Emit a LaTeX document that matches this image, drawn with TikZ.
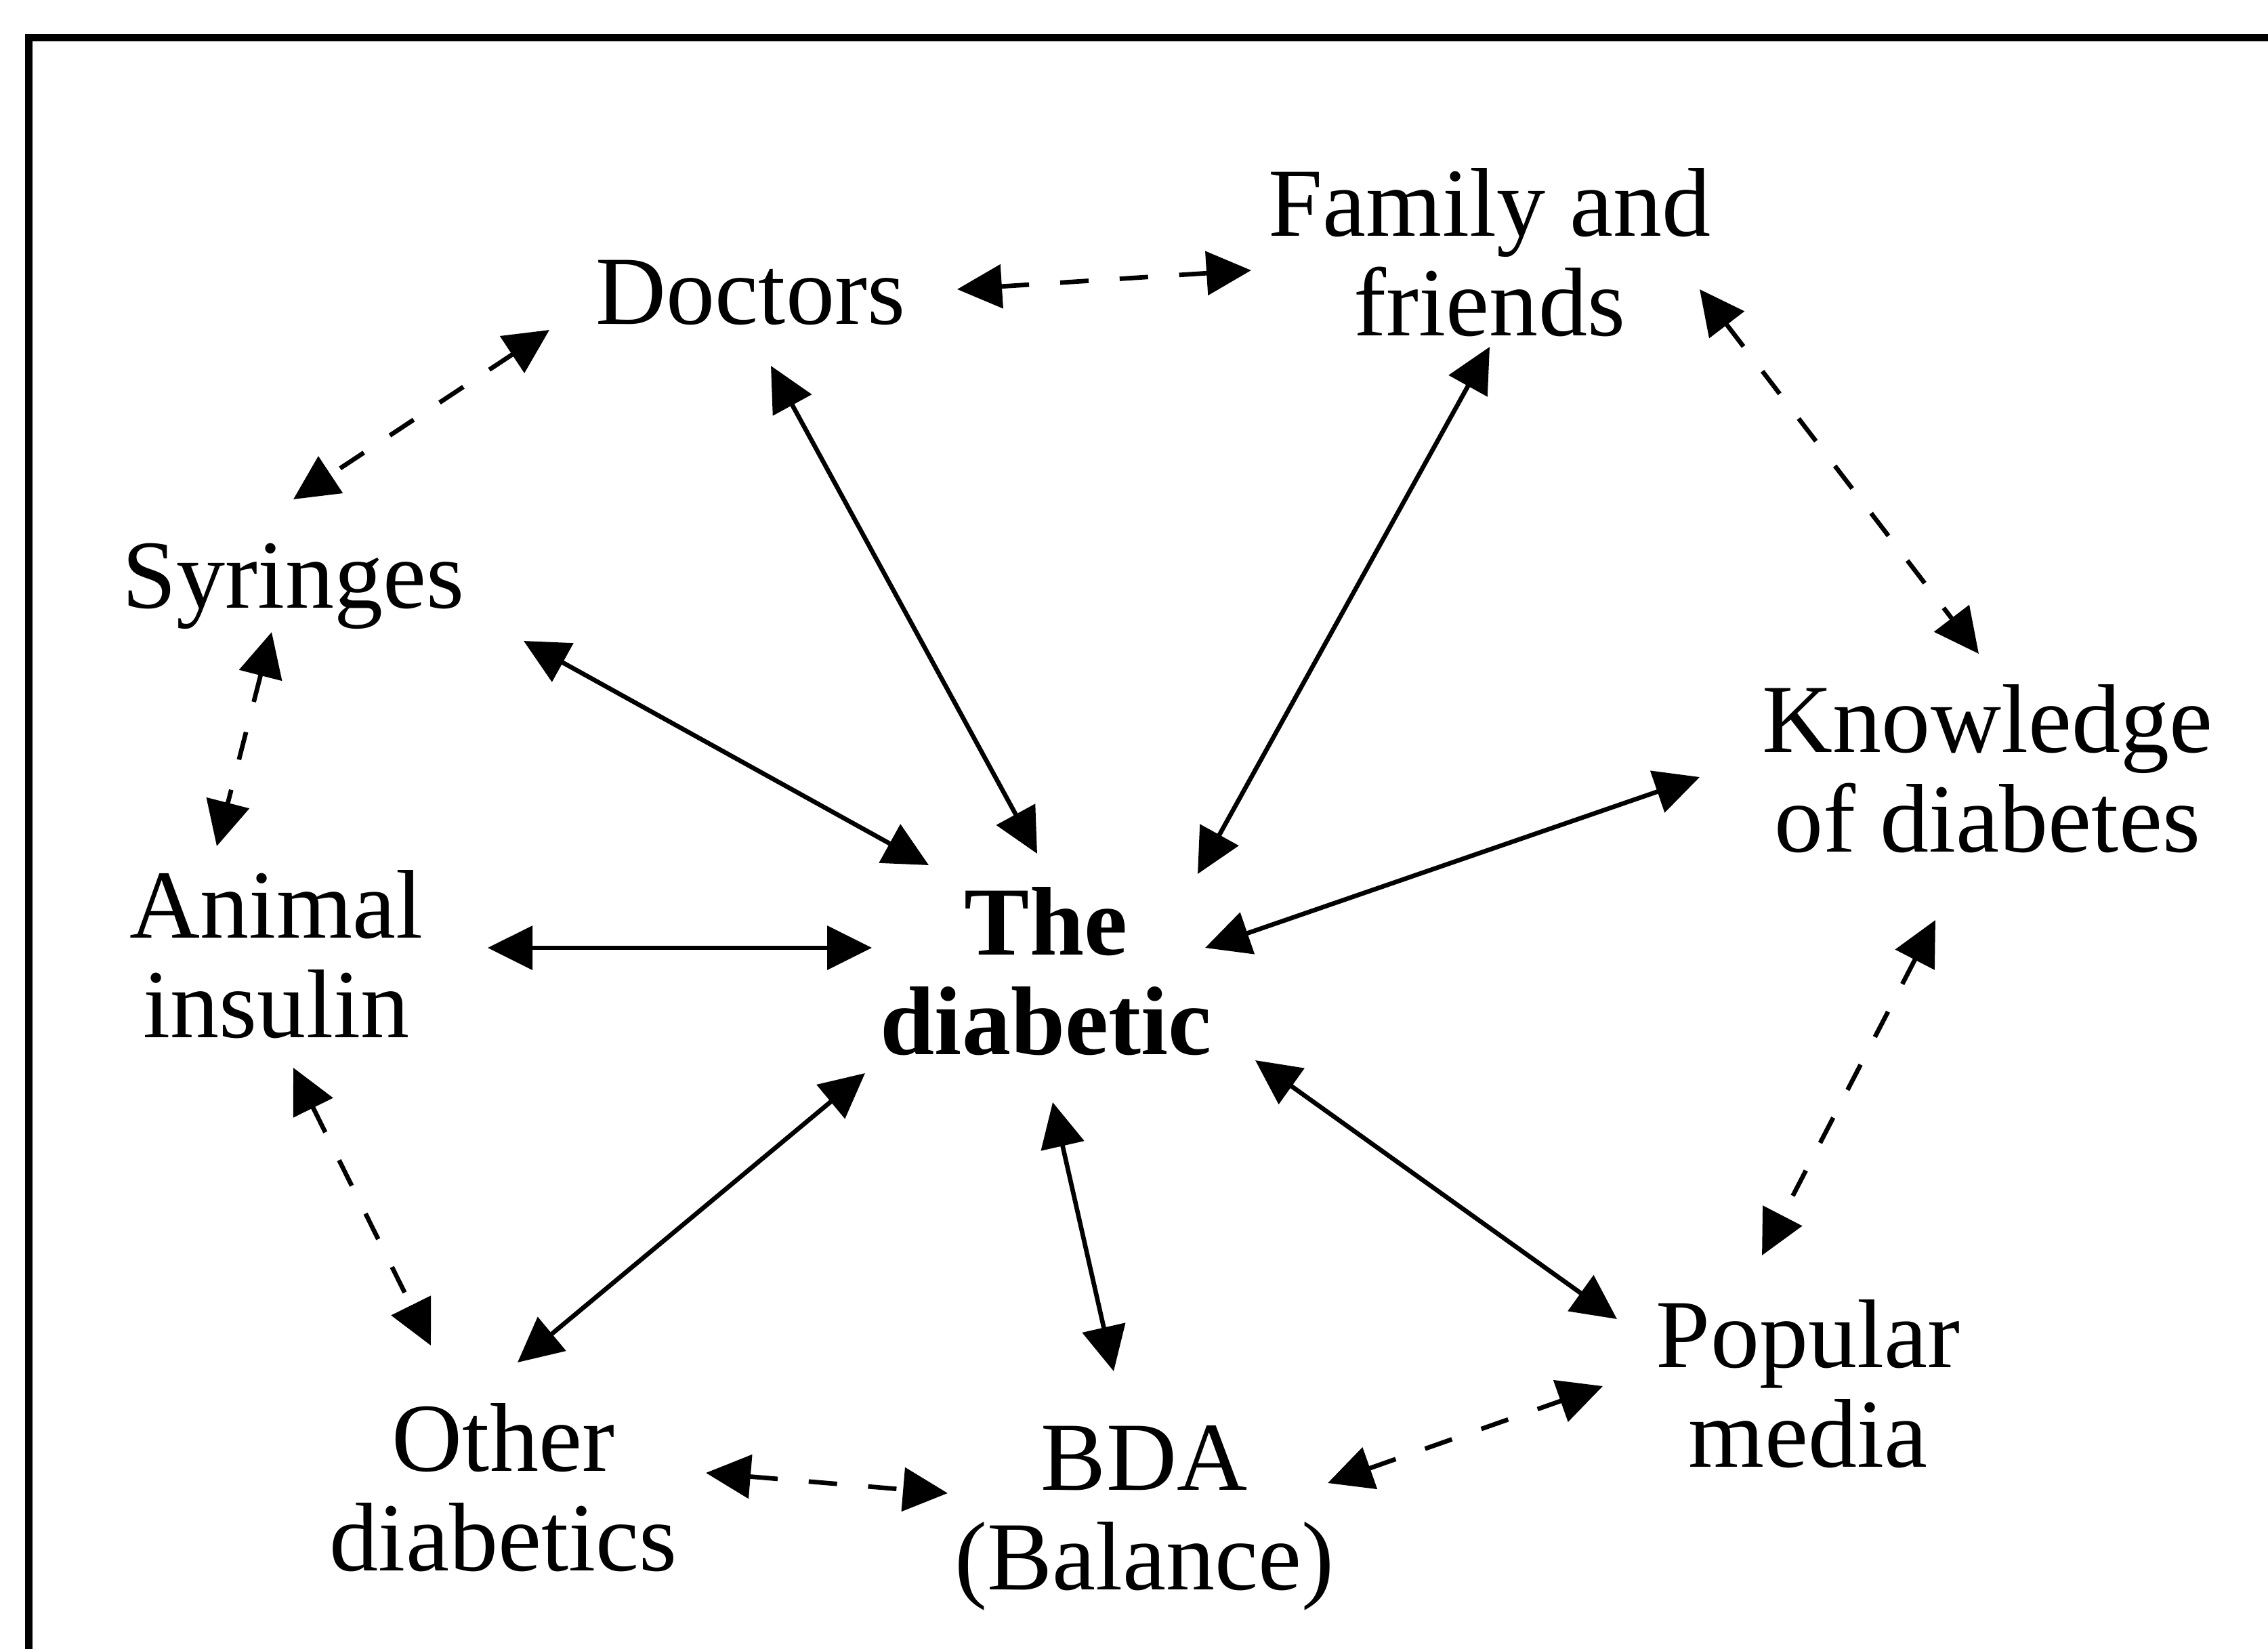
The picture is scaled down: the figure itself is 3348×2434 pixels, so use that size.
\documentclass[tikz,border=0pt]{standalone}
\usepackage{fontspec}
\setmainfont{Liberation Serif}
\usetikzlibrary{arrows.meta}
\newcommand{\stacklines}[1]{\begin{tabular}[t]{@{}c@{}}#1\end{tabular}}
\begin{document}
\begin{tikzpicture}[x=0.1mm, y=-0.1mm,
  lbl/.style={anchor=base, inner sep=0pt, font=\fontsize{41}{42}\selectfont},
  tip/.tip={Triangle[length=6.6mm, width=6.4mm]},
  link/.style={line width=1.9pt, tip-tip},
  dashlink/.style={link, dash pattern=on 4.2mm off 4.6mm}]
\useasboundingbox (0,0) rectangle (3348,2434);

% frame (top and left edges)
\draw[line width=1.1mm] (42,2434) -- (42,55) -- (3348,55);

% labels (anchored at the baseline of the first line)
\node[lbl] (doc) at (1108,478) {Doctors};
\node[lbl] (fam) at (2199,348) {\stacklines{Family and\\friends}};
\node[lbl] (syr) at (433,897) {Syringes};
\node[lbl] (know) at (2934,1110) {\stacklines{Knowledge\\of diabetes}};
\node[lbl] (ani) at (408,1384) {\stacklines{Animal\\insulin}};
\node[lbl] (diab) at (1544,1409) {\stacklines{\bfseries The\\\bfseries diabetic}};
\node[lbl] (oth) at (743,2171) {\stacklines{Other\\diabetics}};
\node[lbl] (bda) at (1689,2199) {\stacklines{BDA\\(Balance)}};
\node[lbl] (pop) at (2669,2018) {\stacklines{Popular\\media}};

% outer ring (dashed)
\draw[dashlink] ([shift={(305,-51)}]doc.base) -- ([shift={(-352,51)}]fam.base);
\draw[dashlink] ([shift={(-297,9)}]doc.base) -- ([shift={(0,-160)}]syr.base);
\draw[dashlink] ([shift={(310,79)}]fam.base) -- ([shift={(-13,-145)}]know.base);
\draw[dashlink] ([shift={(-32,36)}]syr.base) -- ([shift={(-88,-135)}]ani.base);
\draw[dashlink] ([shift={(-77,248)}]know.base) -- ([shift={(-68,-165)}]pop.base);
\draw[dashlink] ([shift={(25,192)}]ani.base) -- ([shift={(-107,-185)}]oth.base);
\draw[dashlink] ([shift={(299,3)}]oth.base) -- ([shift={(-290,5)}]bda.base);
\draw[dashlink] ([shift={(271,-10)}]bda.base) -- ([shift={(-303,28)}]pop.base);

% spokes to the centre (solid)
\draw[link] ([shift={(340,49)}]syr.base) -- ([shift={(-173,-132)}]diab.base);
\draw[link] ([shift={(30,62)}]doc.base) -- ([shift={(-13,-149)}]diab.base);
\draw[link] ([shift={(0,164)}]fam.base) -- ([shift={(224,-119)}]diab.base);
\draw[link] ([shift={(-425,37)}]know.base) -- ([shift={(235,-10)}]diab.base);
\draw[link] ([shift={(312,15)}]ani.base) -- ([shift={(-257,-10)}]diab.base);
\draw[link] ([shift={(21,-160)}]oth.base) -- ([shift={(-267,175)}]diab.base);
\draw[link] ([shift={(-45,-175)}]bda.base) -- ([shift={(10,218)}]diab.base);
\draw[link] ([shift={(-282,-71)}]pop.base) -- ([shift={(309,156)}]diab.base);
\end{tikzpicture}
\end{document}
